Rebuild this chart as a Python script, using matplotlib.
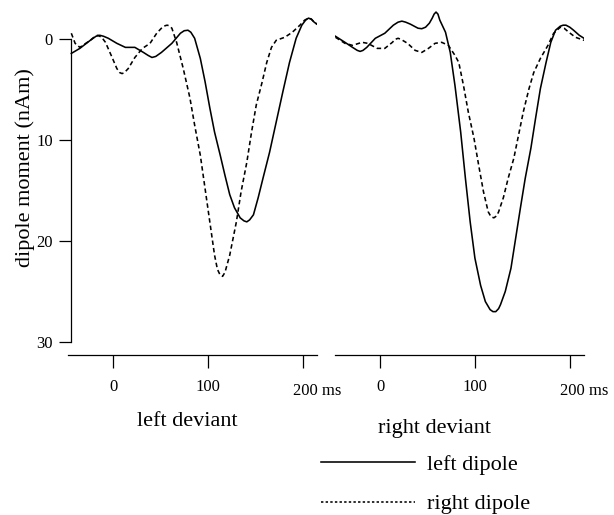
import matplotlib
matplotlib.use('Agg')
import matplotlib.pyplot as plt
from matplotlib.lines import Line2D

plt.rcParams['font.family'] = ['Liberation Serif', 'DejaVu Serif']

# ---- data (ms, nAm) ----
t_left_solid = [-44, -35, -24, -18, -14, -10, -5, 4, 13, 23, 32, 37, 41, 45, 51, 62, 71, 75, 79, 82, 86, 92,
                97, 102, 107, 113, 118, 123, 128, 134, 138, 141, 144, 148, 153, 158, 165, 172, 179, 186, 193,
                199, 203, 206, 209, 212, 215]
v_left_solid = [1.4, 0.9, 0.1, -0.3, -0.4, -0.3, -0.1, 0.4, 0.8, 0.8, 1.3, 1.6, 1.8, 1.7, 1.3, 0.4, -0.6,
                -0.85, -0.9, -0.7, -0.1, 1.9, 4.2, 6.8, 9.2, 11.5, 13.5, 15.4, 16.7, 17.7, 18.0, 18.1, 17.9,
                17.4, 15.7, 13.8, 11.2, 8.2, 5.2, 2.3, -0.1, -1.4, -1.9, -2.1, -2.0, -1.7, -1.5]

t_left_dash = [-44, -40, -35, -24, -19, -16, -12, -8, -1, 4, 7, 9.5, 12, 16, 23, 31, 39, 46, 52, 55, 57, 59,
               62, 67, 74, 81, 86, 92, 97, 102, 107, 110, 113, 115.5, 118, 123, 130, 135, 141, 146, 151, 157,
               162, 167, 172, 181, 189, 197, 202, 206, 209, 212, 215]
v_left_dash = [-0.6, 0.4, 0.8, 0.1, -0.3, -0.4, -0.2, 0.3, 1.8, 2.9, 3.3, 3.4, 3.3, 2.9, 1.8, 0.9, 0.4,
               -0.6, -1.2, -1.35, -1.4, -1.35, -1.1, 0.3, 2.9, 5.8, 8.5, 11.5, 14.8, 18.1, 21.4, 22.8, 23.4,
               23.5, 23.1, 21.4, 18.1, 15.1, 12.2, 9.2, 6.5, 4.3, 2.3, 0.8, 0.1, -0.2, -0.7, -1.4, -1.9,
               -2.1, -2.0, -1.7, -1.5]

t_right_solid = [-47, -37, -29, -24, -21, -18, -14, -5, 5, 14, 19, 23, 27, 32, 40, 44, 48, 52, 55, 57, 59,
                 61, 63, 66, 69, 74, 79, 85, 90, 95, 100, 106, 111, 116, 119, 122, 125, 127, 132, 138, 143,
                 148, 153, 159, 164, 169, 175, 180, 185, 190, 193, 196, 200, 204, 210, 215]
v_right_solid = [-0.3, 0.3, 0.8, 1.1, 1.2, 1.1, 0.8, -0.1, -0.6, -1.4, -1.7, -1.8, -1.7, -1.5, -1.1,
                 -1.05, -1.2, -1.6, -2.1, -2.5, -2.7, -2.5, -1.9, -1.3, -0.7, 1.3, 4.6, 9.2, 13.8, 18.1,
                 21.7, 24.4, 26.0, 26.8, 27.0, 27.0, 26.7, 26.3, 25.0, 22.7, 19.7, 16.7, 13.8, 10.8, 7.8,
                 4.9, 2.3, 0.3, -0.9, -1.3, -1.4, -1.4, -1.2, -0.9, -0.4, -0.1]

t_right_dash = [-47, -37, -29, -19, -13, -3, 5, 13, 16, 19, 22, 29, 37, 44, 51, 58, 65, 72, 79, 83, 88, 93,
                99, 104, 109, 114, 117, 120, 123, 125, 130, 135, 141, 146, 151, 157, 162, 169, 177, 183, 190,
                194, 199, 206, 215]
v_right_dash = [-0.2, 0.4, 0.6, 0.3, 0.4, 0.9, 0.9, 0.3, 0.0, -0.1, 0.0, 0.4, 1.1, 1.3, 0.9, 0.4, 0.3,
                0.6, 1.6, 2.3, 4.6, 7.2, 9.8, 12.5, 15.1, 17.1, 17.6, 17.7, 17.5, 17.1, 15.7, 13.8, 11.8,
                9.5, 7.2, 4.9, 3.3, 1.9, 0.6, -0.6, -1.2, -1.1, -0.7, -0.2, 0.1]

y_ticks = [0, 10, 20, 30]
x_ticks = [0, 100, 200]
x_ticklabels = ['0', '100', '']
panel_titles = ['left deviant', 'right deviant']
series_labels = ['left dipole', 'right dipole']

# ---- layout ----
W, H = 614, 515
fig = plt.figure(figsize=(W / 100, H / 100), dpi=100)


def rect(x0, y0, x1, y1):
    return [x0 / W, 1 - y1 / H, (x1 - x0) / W, (y1 - y0) / H]


ax1 = fig.add_axes(rect(68, 4, 317, 355))
ax2 = fig.add_axes(rect(335, 4, 584, 355))

lw = 1.15
dash = (0, (2.8, 1.9))

ax1.plot(t_left_solid, v_left_solid, color='black', lw=lw)
ax1.plot(t_left_dash, v_left_dash, color='black', lw=lw, ls=dash)
ax2.plot(t_right_solid, v_right_solid, color='black', lw=lw)
ax2.plot(t_right_dash, v_right_dash, color='black', lw=lw, ls=dash)

for ax in (ax1, ax2):
    ax.set_xlim(-47.5, 215)
    ax.set_ylim(31.3, -3.5)
    ax.patch.set_visible(False)
    for s in ('top', 'right'):
        ax.spines[s].set_visible(False)
    ax.spines['bottom'].set_linewidth(0.9)
    ax.set_xticks(x_ticks)
    ax.set_xticklabels(x_ticklabels)
    ax.tick_params(axis='x', direction='out', length=9, width=0.9, pad=8, labelsize=12)
    ax.annotate('200 ms', xy=(200, 0), xycoords=('data', 'axes fraction'),
                xytext=(-7.2, -20.5), textcoords='offset points',
                ha='left', va='top', fontsize=12)

ax1.spines['left'].set_bounds(0, 30)
ax1.spines['left'].set_position(('data', -44.2))
ax1.spines['left'].set_linewidth(0.9)
ax1.set_yticks(y_ticks)
ax1.tick_params(axis='y', direction='out', length=9, width=0.9, pad=4, labelsize=12)
ax1.set_ylabel('dipole moment (nAm)', fontsize=16)
ax1.yaxis.set_label_coords((35 - 68) / 249, 1 - (168 - 4) / 351)

ax2.spines['left'].set_visible(False)
ax2.set_yticks([])

fig.text(187 / W, 1 - 426 / H, panel_titles[0], ha='center', va='baseline', fontsize=16)
fig.text(435 / W, 1 - 433 / H, panel_titles[1], ha='center', va='baseline', fontsize=16)

handles = [Line2D([], [], color='black', lw=lw),
           Line2D([], [], color='black', lw=lw, ls=(0, (1.5, 1.4)))]
fig.legend(handles, series_labels, loc='upper left', bbox_to_anchor=(321 / W, 1 - 454 / H),
           frameon=False, fontsize=16, handlelength=4.23, handletextpad=0.54,
           labelspacing=0.87, borderpad=0, borderaxespad=0)

fig.savefig('out.png', dpi=100)
